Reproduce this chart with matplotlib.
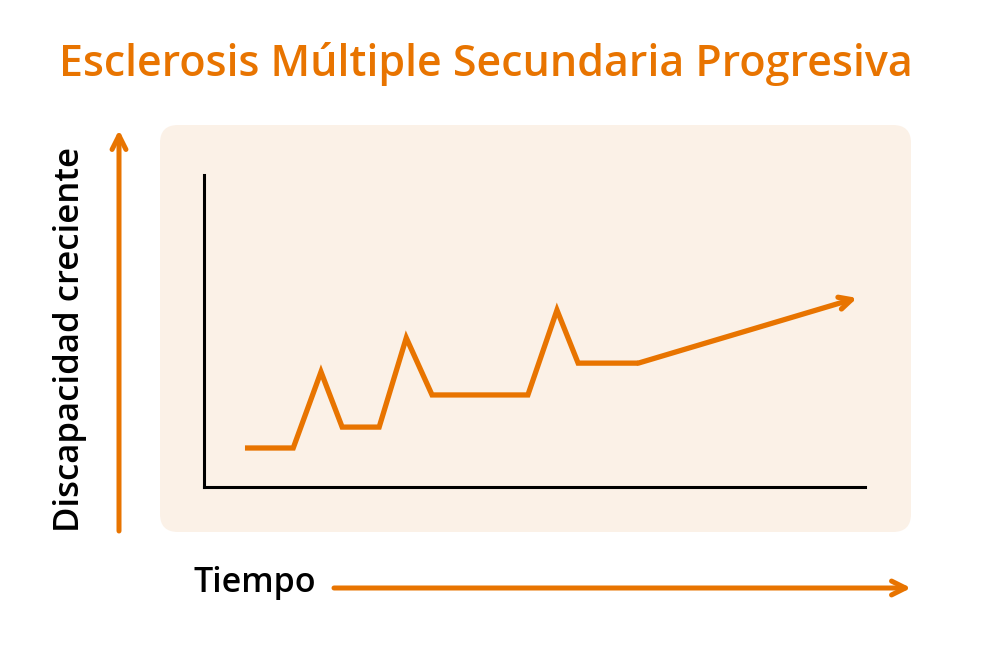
import matplotlib
matplotlib.use('Agg')
import matplotlib.pyplot as plt
from matplotlib.patches import FancyBboxPatch

# disease course: time vs disability level (arbitrary units)
tiempo = [6.2, 13.5, 17.7, 20.9, 26.5, 30.6, 34.5, 49.0, 53.4, 56.6, 65.7, 98.8]
discapacidad = [12.5, 12.5, 36.9, 19.2, 19.2, 47.8, 29.5, 29.5, 56.7, 39.7, 39.7, 60.6]

titulo = 'Esclerosis Múltiple Secundaria Progresiva'
etiqueta_x = 'Tiempo'
etiqueta_y = 'Discapacidad creciente'

ORANGE = '#E87400'
PANEL = '#FBF1E7'

plt.rcParams['font.family'] = ['Open Sans', 'DejaVu Sans']

fig = plt.figure(figsize=(9.98, 6.49), dpi=100)

# background layer in pixel coords
bg = fig.add_axes([0, 0, 1, 1])
bg.set_xlim(0, 998)
bg.set_ylim(649, 0)
bg.axis('off')

bg.add_patch(FancyBboxPatch((160, 125), 751, 407,
                            boxstyle='round,pad=0,rounding_size=18',
                            fc=PANEL, ec='none'))

bg.text(486, 64, titulo, color=ORANGE, fontsize=31, fontweight='semibold',
        ha='center', va='center')

# outer axis arrows
bg.annotate('', xy=(119, 130), xytext=(119, 531),
            arrowprops=dict(arrowstyle='->', lw=3.6, color=ORANGE,
                            mutation_scale=25, shrinkA=0, shrinkB=0))
bg.annotate('', xy=(911, 588), xytext=(334, 588),
            arrowprops=dict(arrowstyle='->', lw=3.6, color=ORANGE,
                            mutation_scale=25, shrinkA=0, shrinkB=0))
bg.text(70, 339, etiqueta_y, rotation=90, fontsize=25, fontweight='semibold',
        ha='center', va='center', color='black')
bg.text(255, 583, etiqueta_x, fontsize=24.5, fontweight='semibold',
        ha='center', va='center', color='black')

# inner chart
ax = fig.add_axes([204 / 998, (649 - 487) / 649, 661 / 998, 312 / 649])
ax.patch.set_alpha(0)
ax.set_xlim(0, 100)
ax.set_ylim(0, 100)
for s in ['top', 'right']:
    ax.spines[s].set_visible(False)
for s in ['left', 'bottom']:
    ax.spines[s].set_linewidth(2.2)
    ax.spines[s].set_color('black')
ax.set_xticks([])
ax.set_yticks([])

ax.plot(tiempo[:-1], discapacidad[:-1], color=ORANGE, lw=3.8,
        solid_joinstyle='miter', solid_capstyle='butt')
ax.annotate('', xy=(tiempo[-1], discapacidad[-1]),
            xytext=(tiempo[-2], discapacidad[-2]),
            arrowprops=dict(arrowstyle='->', lw=3.8, color=ORANGE,
                            mutation_scale=22, shrinkA=0, shrinkB=0))

fig.savefig('out.png', dpi=100)
